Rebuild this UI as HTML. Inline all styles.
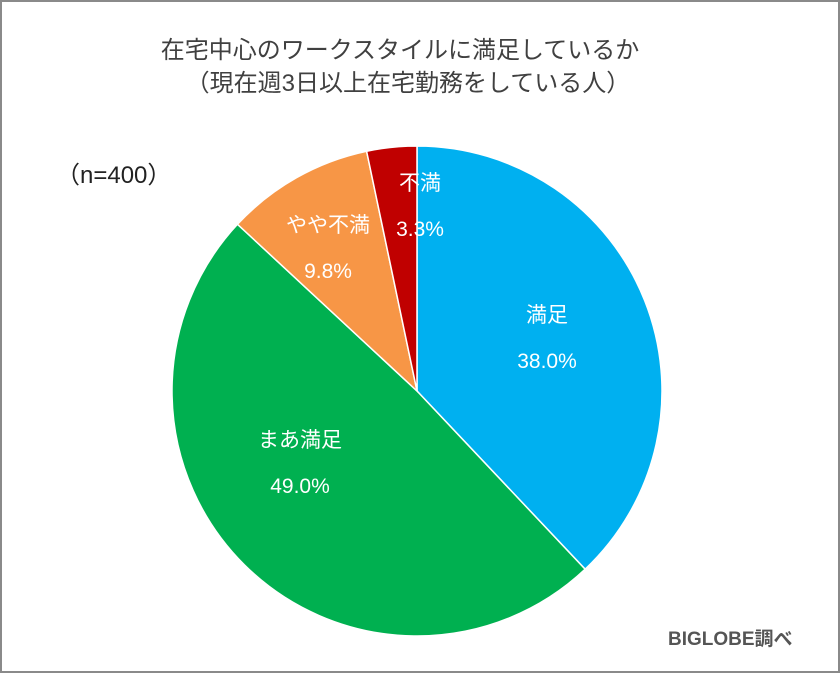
<!DOCTYPE html>
<html><head><meta charset="utf-8">
<style>
html,body{margin:0;padding:0;background:#fff;}
#frame{position:relative;width:836px;height:669px;border:2px solid #8a8a8a;background:#fff;overflow:hidden;}
.t{position:absolute;left:0;width:836px;text-align:center;color:#404040;font-family:"Liberation Sans","Noto Sans CJK JP",sans-serif;font-size:24px;}
svg text{font-family:"Liberation Sans","Noto Sans CJK JP",sans-serif;}
</style></head>
<body>
<div id="frame">
<div class="t" style="top:28px;left:-20px">在宅中心のワークスタイルに満足しているか</div>
<div class="t" style="top:61px;left:-12px">（現在週3日以上在宅勤務をしている人）</div>
<div style="position:absolute;left:54px;top:153px;font-size:24px;color:#222;font-family:'Liberation Sans','Noto Sans CJK JP',sans-serif">（n=400）</div>
<div style="position:absolute;left:666px;top:622px;font-size:19px;font-weight:bold;color:#555;font-family:'Liberation Sans','Noto Sans CJK JP',sans-serif">BIGLOBE調べ</div>
<svg id="pie" width="836" height="669" style="position:absolute;left:0;top:0"></svg>
</div>
<script>
const categories=["満足","まあ満足","やや不満","不満"];
const values=[38.0,49.0,9.8,3.3];
const valueLabels=["38.0%","49.0%","9.8%","3.3%"];
const colors=["#00b0f0","#00b050","#f79646","#c00000"];
const labelOffsets=[[130,-54],[-117,71],[-89,-144],[3,-186]];
const cx=415,cy=389,R=245;
const svg=document.getElementById('pie');
const NS="http://www.w3.org/2000/svg";
const total=values.reduce((a,b)=>a+b,0);
function pt(a,r){return [cx+r*Math.sin(a),cy-r*Math.cos(a)];}
let acc=0;
values.forEach((v,i)=>{
  const a0=acc/total*2*Math.PI; acc+=v; const a1=acc/total*2*Math.PI;
  const p0=pt(a0,R),p1=pt(a1,R);
  const large=(a1-a0)>Math.PI?1:0;
  const p=document.createElementNS(NS,'path');
  p.setAttribute('d',`M${cx},${cy} L${p0[0]},${p0[1]} A${R},${R} 0 ${large} 1 ${p1[0]},${p1[1]} Z`);
  p.setAttribute('fill',colors[i]);p.setAttribute('stroke','#fff');p.setAttribute('stroke-width','1.5');
  
  
  svg.appendChild(p);
  const lx=cx+labelOffsets[i][0], ly=cy+labelOffsets[i][1];
  const t1=document.createElementNS(NS,'text');
  t1.setAttribute('x',lx);t1.setAttribute('y',ly-15);t1.setAttribute('text-anchor','middle');
  t1.setAttribute('fill','#fff');t1.setAttribute('font-size','21');t1.textContent=categories[i];
  
  
  svg.appendChild(t1);
  const t2=document.createElementNS(NS,'text');
  t2.setAttribute('x',lx);t2.setAttribute('y',ly+31);t2.setAttribute('text-anchor','middle');
  t2.setAttribute('fill','#fff');t2.setAttribute('font-size','21');t2.textContent=valueLabels[i];
  
  
  svg.appendChild(t2);
});
</script>
</body></html>
